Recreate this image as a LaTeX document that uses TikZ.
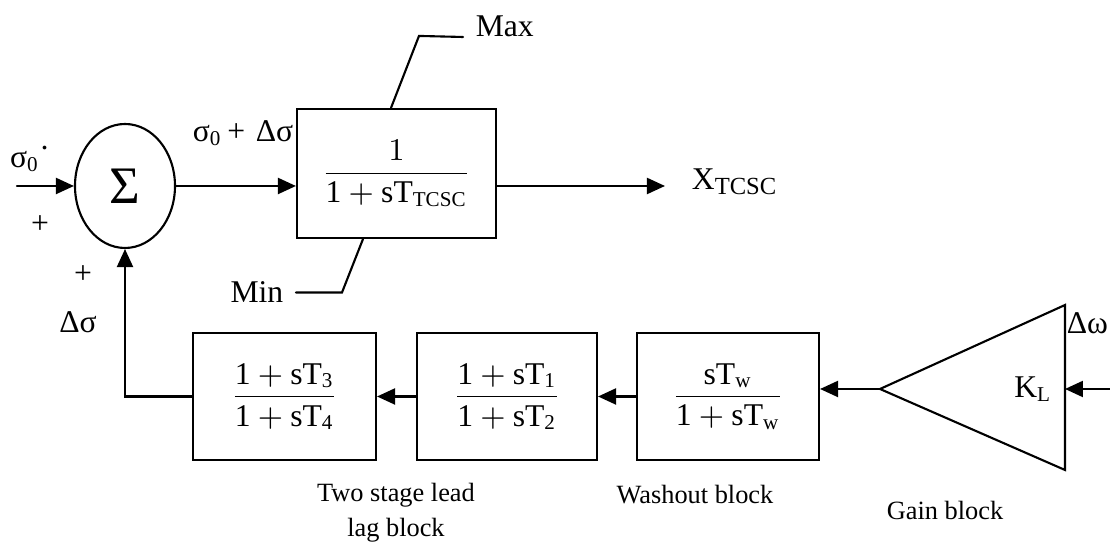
\documentclass[tikz,border=0pt]{standalone}
\usepackage{amsmath}
\usepackage{fontspec}
\setmainfont{Liberation Serif}
\usetikzlibrary{arrows.meta,shapes.geometric}

\begin{document}
\begin{tikzpicture}[>={Triangle[length=1.8mm,width=1.6mm]},line width=0.6pt,line cap=round,
  font=\fontsize{9}{11}\selectfont,
  blk/.style={draw,minimum height=1.27cm,inner sep=0pt},
  blkname/.style={font=\fontsize{7.5}{10}\selectfont,align=center}]
\useasboundingbox (0,0) rectangle (11.1,5.46);
% summing junction and limiter
\node[draw,ellipse,minimum width=1.0cm,minimum height=1.24cm,inner sep=0pt] (sum) at (1.25,3.60) {\fontsize{15}{15}\selectfont Σ};
\node[blk,minimum width=1.99cm,minimum height=1.29cm] (tcsc) at (3.965,3.725) {$\dfrac{1}{\mathrm{1 + sT_{TCSC}}}$};
\node[anchor=base west] (max) at (4.63,5.09) {Max};
\node[anchor=east] (min) at (2.96,2.535) {Min};
\draw ([xshift=-0.55mm]tcsc.north) -- ++(0.28,0.72) -- (max.base west);
\draw (min.east) -- ++(0.46,0) -- ([xshift=-3.35mm]tcsc.south);
\coordinate (in) at (0.17,3.60);
\coordinate (xout) at (6.65,3.60);
\draw[->] (in) -- (sum.west);
\draw[->] (sum.east) -- (sum.east -| tcsc.west);
\draw[->] (tcsc.east |- sum.east) -- (xout);
\node (sig) at (0.30,3.87) {σ\textsubscript{0}\raisebox{0.6ex}{·}};
\node (p1) at (0.40,3.21) {+};
\node (p2) at (0.83,2.71) {+};
\node (ds) at (0.78,2.24) {Δσ};
\node (sumout) at (2.43,4.13) {σ\textsubscript{0}\,+\,\,Δσ};
\node (xlbl) at (7.35,3.64) {X$_{\text{\fontsize{7}{7}\selectfont TCSC}}$};
% feedback path
\node[blk,minimum width=1.83cm] (ll2) at (2.845,1.495) {$\dfrac{\mathrm{1 + sT_3}}{\mathrm{1 + sT_4}}$};
\node[blk,minimum width=1.80cm] (ll1) at (5.07,1.495) {$\dfrac{\mathrm{1 + sT_1}}{\mathrm{1 + sT_2}}$};
\node[blk,minimum width=1.82cm] (wo) at (7.28,1.495) {$\dfrac{\mathrm{sT_w}}{\mathrm{1 + sT_w}}$};
\coordinate (gtip) at (8.80,1.57);
\coordinate (gright) at (10.65,1.57);
\coordinate (win) at (11.10,1.57);
\draw (gtip) -- (10.65,2.41) -- (10.65,0.76) -- cycle;
\node (kl) at (10.33,1.57) {$\mathrm{K_L}$};
\node[anchor=east,inner sep=0pt] (dw) at (11.09,2.23) {Δω};
\draw[->] (win) -- (gright);
\draw[->] (gtip) -- (gtip -| wo.east);
\draw[->] (wo.west) -- (ll1.east);
\draw[->] (ll1.west) -- (ll2.east);
\draw[->] (ll2.west) -- (ll2.west -| sum) -- (sum.south);
\node[blkname] (cll) at (3.96,0.335) {Two stage lead\\lag block};
\node[blkname] (cwo) at (6.95,0.51) {Washout block};
\node[blkname] (cg) at (9.45,0.36) {Gain block};
\end{tikzpicture}
\end{document}
